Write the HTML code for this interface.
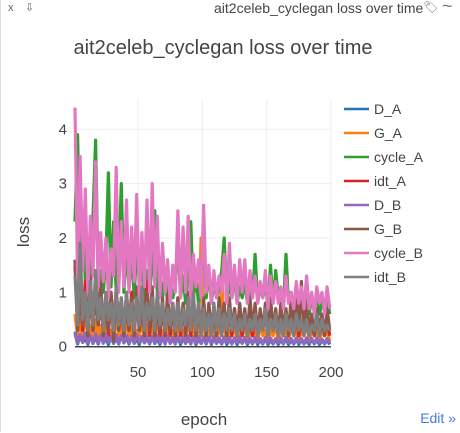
<!DOCTYPE html>
<html><head><meta charset="utf-8">
<style>
body{margin:0;width:460px;height:433px;overflow:hidden;background:#fff;font-family:"Liberation Sans",Arial,sans-serif;}
#wrap{position:absolute;left:0;top:0;width:459px;height:432px;border-left:1px solid #ddd;}
.top{position:absolute;top:0;left:0;width:460px;height:20px;font-size:13px;color:#444;}
</style></head><body>
<div id="wrap">
<div class="top">
<span style="position:absolute;left:7px;top:2px;font-size:11px;color:#666">x</span>
<span style="position:absolute;left:24px;top:1px;font-size:11px;color:#666">⇩</span>
<span style="position:absolute;left:213px;top:0px;font-size:14px">ait2celeb_cyclegan loss over time</span>
<span style="position:absolute;left:422px;top:0px;font-size:12px;color:#777">🏷</span>
<span style="position:absolute;left:441px;top:-4px;font-size:18px;color:#777">~</span>
</div>
<svg id="chart" width="460" height="433" style="position:absolute;left:0;top:0"></svg>
</div>
<script>
const epochs=[];for(let e=1;e<=199;e+=2)epochs.push(e);
const seriesNames=["D_A","G_A","cycle_A","idt_A","D_B","G_B","cycle_B","idt_B"];
const seriesColors=["#1f77b4","#ff7f0e","#2ca02c","#d62728","#9467bd","#8c564b","#e377c2","#7f7f7f"];
const D_A=[0.25,0.05,0.2,0.08,0.15,0.04,0.22,0.06,0.18,0.05,0.2,0.07,0.15,0.04,0.19,0.06,0.16,0.05,0.21,0.07,0.17,0.05,0.2,0.06,0.14,0.04,0.18,0.07,0.16,0.05,0.19,0.06,0.15,0.04,0.17,0.05,0.2,0.06,0.14,0.05,0.18,0.04,0.16,0.06,0.15,0.05,0.19,0.04,0.14,0.06,0.16,0.05,0.18,0.04,0.15,0.06,0.13,0.05,0.17,0.04,0.14,0.05,0.16,0.04,0.13,0.06,0.15,0.04,0.14,0.05,0.16,0.04,0.13,0.05,0.15,0.04,0.12,0.05,0.14,0.04,0.13,0.05,0.15,0.04,0.12,0.05,0.14,0.04,0.13,0.05,0.12,0.04,0.14,0.05,0.13,0.04,0.12,0.05,0.13,0.04];
const G_A=[0.6,0.2,0.5,0.1,0.7,0.2,0.4,0.1,0.5,0.2,0.4,0.1,0.5,0.2,0.3,0.1,0.6,0.2,0.4,0.1,0.5,0.2,0.4,0.1,0.3,0.2,0.5,0.1,0.4,0.2,0.4,0.1,0.5,0.2,0.3,0.1,0.4,0.2,0.3,0.1,0.4,0.2,0.3,0.1,0.5,0.2,0.4,0.1,0.3,2.0,0.4,0.1,0.3,0.2,0.4,0.1,0.3,1.3,0.4,0.1,0.3,0.2,0.4,0.1,0.3,0.2,0.4,0.1,0.3,0.2,0.3,0.1,0.4,0.2,0.3,0.1,0.3,0.2,0.4,0.1,0.3,0.2,0.3,0.1,0.4,0.2,0.3,0.1,0.3,0.2,0.5,0.1,0.3,0.2,0.3,0.1,0.3,0.2,0.3,0.1];
const cycle_A=[2.3,3.9,1.5,2.5,1.2,1.6,1.0,2.4,3.8,1.2,1.4,1.0,1.6,3.2,1.1,2.3,1.0,1.5,3.0,1.0,1.8,1.1,1.7,0.9,1.9,1.2,1.6,0.8,1.4,1.0,1.5,2.5,1.0,1.4,0.9,1.3,0.8,1.2,0.9,1.1,2.0,0.9,1.3,0.8,1.4,2.3,0.9,1.3,0.8,1.1,2.2,0.9,1.4,0.8,1.2,0.9,1.1,1.4,2.0,0.8,1.2,0.9,1.3,0.8,1.1,0.9,1.2,0.8,1.0,0.9,1.7,0.8,1.1,0.9,1.2,0.7,1.5,0.8,1.4,0.9,1.0,0.7,1.7,0.8,1.0,0.7,0.9,0.8,0.9,0.7,1.0,0.6,0.9,0.7,1.0,0.6,0.8,0.7,0.9,0.6];
const idt_A=[1.5,0.4,1.0,0.3,1.2,0.4,0.9,0.3,1.1,0.4,0.8,0.3,0.9,0.2,1.0,0.3,0.8,0.4,0.9,0.3,0.8,0.3,1.0,0.2,0.9,0.3,0.7,0.3,1.2,0.2,0.8,0.3,0.9,0.2,0.7,0.3,0.8,0.2,0.7,0.3,0.9,0.2,0.7,0.3,0.8,0.2,0.9,0.3,0.7,0.2,0.8,0.3,0.6,0.2,0.7,0.3,0.6,0.2,0.7,0.3,0.6,0.2,0.7,0.3,0.5,0.2,0.6,0.3,0.5,0.2,0.6,0.2,0.5,0.3,0.6,0.2,0.5,0.3,0.6,0.2,0.5,0.2,0.6,0.3,0.5,0.2,0.6,0.2,0.5,0.3,0.4,0.2,0.5,0.2,0.6,0.2,0.4,0.3,0.5,0.2];
const D_B=[0.28,0.07,0.22,0.09,0.25,0.06,0.2,0.08,0.24,0.07,0.21,0.06,0.23,0.08,0.19,0.07,0.22,0.06,0.2,0.08,0.21,0.07,0.18,0.06,0.22,0.08,0.19,0.07,0.2,0.06,0.18,0.08,0.21,0.07,0.19,0.06,0.2,0.07,0.17,0.06,0.19,0.08,0.18,0.07,0.2,0.06,0.17,0.07,0.19,0.06,0.18,0.07,0.17,0.06,0.19,0.07,0.16,0.06,0.18,0.07,0.17,0.06,0.16,0.07,0.18,0.06,0.17,0.07,0.16,0.06,0.17,0.07,0.15,0.06,0.17,0.07,0.16,0.06,0.15,0.07,0.16,0.06,0.17,0.07,0.15,0.06,0.16,0.07,0.15,0.06,0.16,0.07,0.15,0.06,0.16,0.07,0.14,0.06,0.15,0.07];
const G_B=[1.6,0.3,1.1,0.4,0.9,0.2,1.3,0.3,1.0,0.4,1.2,0.2,0.9,0.3,1.0,0.1,1.1,0.3,0.8,0.2,1.0,0.3,0.9,0.2,1.1,0.3,0.9,0.2,1.0,0.3,1.1,0.2,0.8,0.3,0.9,0.2,1.0,0.3,0.8,0.2,0.9,0.3,0.8,0.2,1.0,0.3,0.9,0.2,0.8,0.3,0.9,0.2,0.8,0.3,0.7,0.2,0.9,0.3,0.8,0.2,0.9,0.3,0.7,0.2,0.8,0.3,0.7,0.2,0.9,0.3,0.8,0.2,0.7,0.3,0.8,0.2,0.9,0.3,0.7,0.2,0.8,0.3,0.7,0.2,0.9,0.3,1.1,0.3,1.2,0.2,0.8,0.3,0.6,0.2,0.7,0.3,0.6,0.2,0.7,0.3];
const cycle_B=[4.4,1.2,3.5,1.4,2.9,1.0,2.4,1.3,3.4,1.1,2.1,1.2,2.0,0.9,1.8,1.3,3.3,1.0,2.3,1.1,2.7,1.0,2.2,1.2,2.8,0.9,2.1,1.1,2.7,1.0,3.0,1.1,2.4,0.9,1.9,1.0,1.6,0.8,1.5,1.0,2.5,0.9,2.2,1.0,2.4,0.8,1.7,1.1,1.6,0.9,2.6,1.0,1.5,0.8,1.4,0.9,1.3,1.0,1.7,0.8,1.9,0.9,1.5,0.8,1.6,1.0,1.6,0.8,1.4,0.9,1.3,0.8,1.2,0.9,1.4,0.7,1.3,0.8,1.2,0.8,1.1,0.7,1.3,0.8,1.0,0.7,1.2,0.8,1.1,0.7,1.3,0.7,1.0,0.6,1.1,0.8,1.0,0.6,1.1,0.7];
const idt_B=[1.3,0.4,1.9,0.5,1.0,0.3,1.2,0.4,1.4,0.5,0.9,0.3,1.0,0.5,0.8,0.3,1.1,0.4,0.9,0.3,1.0,0.4,0.8,0.3,0.9,0.4,1.1,0.3,0.8,0.5,0.9,0.3,1.0,0.4,0.8,0.3,0.7,0.4,0.8,0.3,0.8,0.3,0.7,0.4,0.9,0.3,1.0,0.3,0.8,0.2,0.7,0.3,0.6,0.2,0.8,0.3,0.7,0.2,0.6,0.3,0.7,0.3,0.6,0.2,0.5,0.3,0.6,0.2,0.5,0.3,0.6,0.2,0.5,0.3,0.7,0.2,0.5,0.3,0.6,0.2,0.5,0.2,0.6,0.3,0.5,0.2,0.6,0.3,0.5,0.2,0.5,0.2,0.4,0.3,0.6,0.2,0.5,0.3,0.4,0.3];
const seriesData=[D_A,G_A,cycle_A,idt_A,D_B,G_B,cycle_B,idt_B];
const xTicks=[50,100,150,200];
const yTicks=[0,1,2,3,4];

const NS="http://www.w3.org/2000/svg";
const svg=document.getElementById('chart');
const L=74,R=330,T=100,B=350;
const xMin=1,xMax=200;
const x=v=>L+(v-xMin)/(xMax-xMin)*(R-L);
const y=v=>346.7-v*54.35;
function mk(tag,attrs,text){const el=document.createElementNS(NS,tag);for(const k in attrs)el.setAttribute(k,attrs[k]);if(text!==undefined)el.textContent=text;svg.appendChild(el);return el;}

for(const t of yTicks){
  const g=mk('line',{x1:L,x2:R,y1:y(t),y2:y(t),stroke:t===0?'#444':'#eee','stroke-width':t===0?1.5:1});
  
  
  const lb=mk('text',{x:66,y:y(t)+5,'text-anchor':'end','font-size':15,fill:'#444'},String(t));
  
  
}
for(const t of xTicks){
  const g=mk('line',{x1:x(t),x2:x(t),y1:T,y2:346,stroke:'#eee','stroke-width':1});
  
  
  const lb=mk('text',{x:x(t),y:377,'text-anchor':'middle','font-size':15,fill:'#444'},String(t));
  
  
}
seriesData.forEach((d,i)=>{
  const pts=d.map((v,j)=>x(epochs[j]).toFixed(1)+','+y(v).toFixed(1)).join(' ');
  const pl=mk('polyline',{points:pts,fill:'none',stroke:seriesColors[i],'stroke-width':3.2,'stroke-linejoin':'round'});
  
  
});
const z=mk('line',{x1:L,x2:R,y1:y(0),y2:y(0),stroke:'#444','stroke-width':1.5});



const legY=[109,133,157,181,205,229,253,277];
seriesNames.forEach((n,i)=>{
  const ln=mk('line',{x1:343,x2:368,y1:legY[i],y2:legY[i],stroke:seriesColors[i],'stroke-width':2.5});
  
  
  const tx=mk('text',{x:373,y:legY[i]+5,'font-size':14,fill:'#444'},n);
  
  
});
const ti=mk('text',{x:222,y:54,'text-anchor':'middle','font-size':20,fill:'#444'},'ait2celeb_cyclegan loss over time');


const xt=mk('text',{x:203,y:425,'text-anchor':'middle','font-size':17,fill:'#444'},'epoch');


const yt=mk('text',{x:28,y:232,'text-anchor':'middle','font-size':17,fill:'#444',transform:'rotate(-90 28 232)'},'loss');


const ed=mk('text',{x:455,y:423,'text-anchor':'end','font-size':14,fill:'#447adb'},'Edit »');


</script>
</body></html>
